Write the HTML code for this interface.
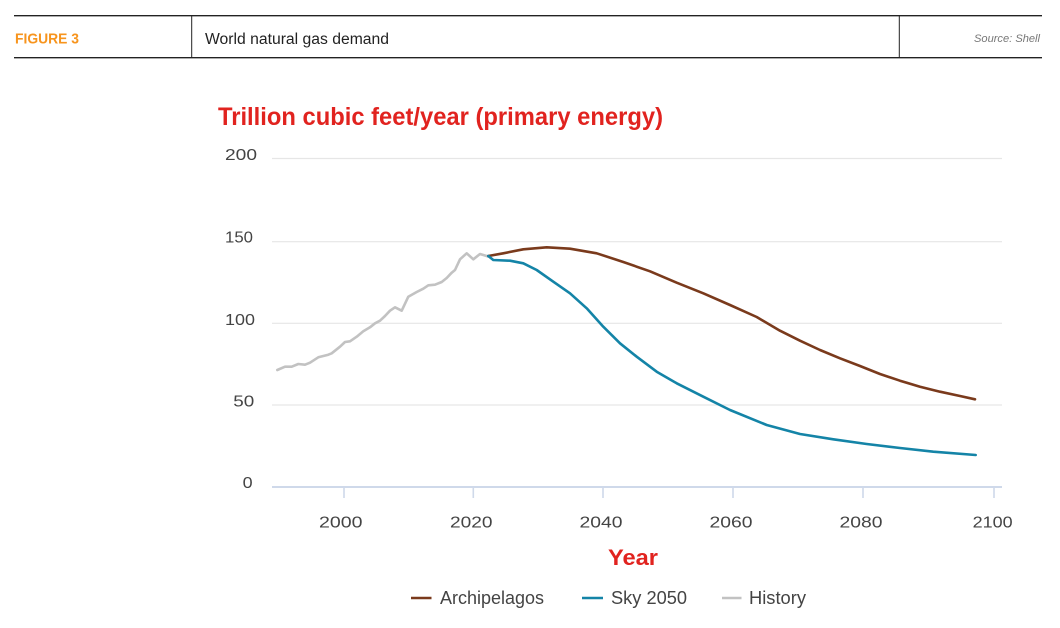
<!DOCTYPE html>
<html>
<head>
<meta charset="utf-8">
<style>
  html, body { margin: 0; padding: 0; background: #ffffff; }
  body { width: 1060px; height: 628px; overflow: hidden; }
  svg { display: block; }
  text { font-family: "Liberation Sans", "DejaVu Sans", sans-serif; }
</style>
</head>
<body>
<svg width="1060" height="628" viewBox="0 0 1060 628" xmlns="http://www.w3.org/2000/svg">
  <!-- Header -->
  <line x1="14" y1="15.7" x2="1042" y2="15.7" stroke="#222" stroke-width="1.4"/>
  <line x1="14" y1="57.7" x2="1042" y2="57.7" stroke="#222" stroke-width="1.4"/>
  <line x1="191.7" y1="15.7" x2="191.7" y2="57.7" stroke="#222" stroke-width="1"/>
  <line x1="899.3" y1="15.7" x2="899.3" y2="57.7" stroke="#222" stroke-width="1"/>
  <text x="15" y="43.5" font-size="15" font-weight="bold" fill="#f7941d" textLength="64" lengthAdjust="spacingAndGlyphs">FIGURE 3</text>
  <text x="205" y="44" font-size="15.5" fill="#222" textLength="184" lengthAdjust="spacingAndGlyphs">World natural gas demand</text>
  <text x="974" y="42" font-size="11" font-style="italic" fill="#777" textLength="66" lengthAdjust="spacingAndGlyphs">Source: Shell</text>

  <!-- Axis title -->
  <text x="218" y="125" font-size="25" font-weight="bold" fill="#e1231f" textLength="445" lengthAdjust="spacingAndGlyphs">Trillion cubic feet/year (primary energy)</text>

  <!-- Gridlines -->
  <g stroke="#e6e6e6" stroke-width="1.2">
    <line x1="272" y1="158.5" x2="1002" y2="158.5"/>
    <line x1="272" y1="241.7" x2="1002" y2="241.7"/>
    <line x1="272" y1="323.3" x2="1002" y2="323.3"/>
    <line x1="272" y1="405" x2="1002" y2="405"/>
  </g>
  <!-- Axis -->
  <line x1="272" y1="487" x2="1002" y2="487" stroke="#cfd9ea" stroke-width="2"/>
  <g stroke="#cfd9ea" stroke-width="1.6">
    <line x1="344" y1="487" x2="344" y2="498"/>
    <line x1="473.3" y1="487" x2="473.3" y2="498"/>
    <line x1="603" y1="487" x2="603" y2="498"/>
    <line x1="733" y1="487" x2="733" y2="498"/>
    <line x1="863" y1="487" x2="863" y2="498"/>
    <line x1="994" y1="487" x2="994" y2="498"/>
  </g>

  <!-- Y tick labels -->
  <g font-size="16" fill="#444">
    <text x="225" y="160" textLength="32" lengthAdjust="spacingAndGlyphs">200</text>
    <text x="225" y="242.5" textLength="28" lengthAdjust="spacingAndGlyphs">150</text>
    <text x="225" y="325" textLength="30" lengthAdjust="spacingAndGlyphs">100</text>
    <text x="233.3" y="406.5" textLength="21" lengthAdjust="spacingAndGlyphs">50</text>
    <text x="242.7" y="488" textLength="10" lengthAdjust="spacingAndGlyphs">0</text>
  </g>

  <!-- X tick labels -->
  <g font-size="16" fill="#444">
    <text x="319" y="527.5" textLength="43.5" lengthAdjust="spacingAndGlyphs">2000</text>
    <text x="450" y="527.5" textLength="42.5" lengthAdjust="spacingAndGlyphs">2020</text>
    <text x="579.5" y="527.5" textLength="43" lengthAdjust="spacingAndGlyphs">2040</text>
    <text x="709.5" y="527.5" textLength="43" lengthAdjust="spacingAndGlyphs">2060</text>
    <text x="839.5" y="527.5" textLength="43" lengthAdjust="spacingAndGlyphs">2080</text>
    <text x="972.7" y="527.5" textLength="40" lengthAdjust="spacingAndGlyphs">2100</text>
  </g>

  <!-- X axis title -->
  <text x="608" y="565" font-size="22" font-weight="bold" fill="#e1231f" textLength="50" lengthAdjust="spacingAndGlyphs">Year</text>

  <!-- Series -->
  <polyline fill="none" stroke="#c2c2c2" stroke-width="2.6" stroke-linejoin="round" stroke-linecap="round"
    points="277.3,370 285,366.7 291.7,366.7 298.3,364 305,364.7 310,362.7 318.3,357.3 328.3,354.7 331.7,353.3 340,346.7 345,342 350,341.3 356.7,336.7 363.3,331.3 370,327.3 375,323.3 380,320.7 385,316 390,310.7 395,307.3 401.7,310.7 408.3,296.7 416.7,292 423.3,288.7 428.3,285.3 435,284.7 441.7,282 446.7,278 451.7,272.7 455,270 460,259.3 466.7,253.3 473.3,259.3 480,254 488.3,256.5"/>
  <polyline fill="none" stroke="#7a3a1c" stroke-width="2.6" stroke-linejoin="round" stroke-linecap="round"
    points="488.3,256 503.3,253.3 523.3,249.3 546.7,247.3 570,248.7 596.7,253.3 623.3,262 650,271.3 676.7,282.7 703.3,293.3 730,305 756.7,317 780,330.7 800,340.7 820,350 840,358.3 860,366 880,374 900,380.7 920,386.7 940,391.7 960,396 975,399.3"/>
  <polyline fill="none" stroke="#1484a7" stroke-width="2.6" stroke-linejoin="round" stroke-linecap="round"
    points="488.3,256 493.3,260 510,260.7 523.3,263.3 536.7,270 553.3,281.7 570,293.3 586.7,308.3 603.3,326.7 620,343.3 636.7,356.7 656.7,371.7 676.7,383.3 703.3,396.7 730,410 766.7,425 800,434 833.3,439.3 866.7,444 900,448 933.3,451.7 975.7,455"/>

  <!-- Legend -->
  <line x1="411" y1="598" x2="431.5" y2="598" stroke="#7a3a1c" stroke-width="2.6"/>
  <text x="440" y="604" font-size="18" fill="#444" textLength="104" lengthAdjust="spacingAndGlyphs">Archipelagos</text>
  <line x1="582" y1="598" x2="603" y2="598" stroke="#1484a7" stroke-width="2.6"/>
  <text x="611" y="604" font-size="18" fill="#444" textLength="76" lengthAdjust="spacingAndGlyphs">Sky 2050</text>
  <line x1="722" y1="598" x2="741.5" y2="598" stroke="#c2c2c2" stroke-width="2.6"/>
  <text x="749" y="604" font-size="18" fill="#444" textLength="57" lengthAdjust="spacingAndGlyphs">History</text>
</svg>
</body>
</html>
